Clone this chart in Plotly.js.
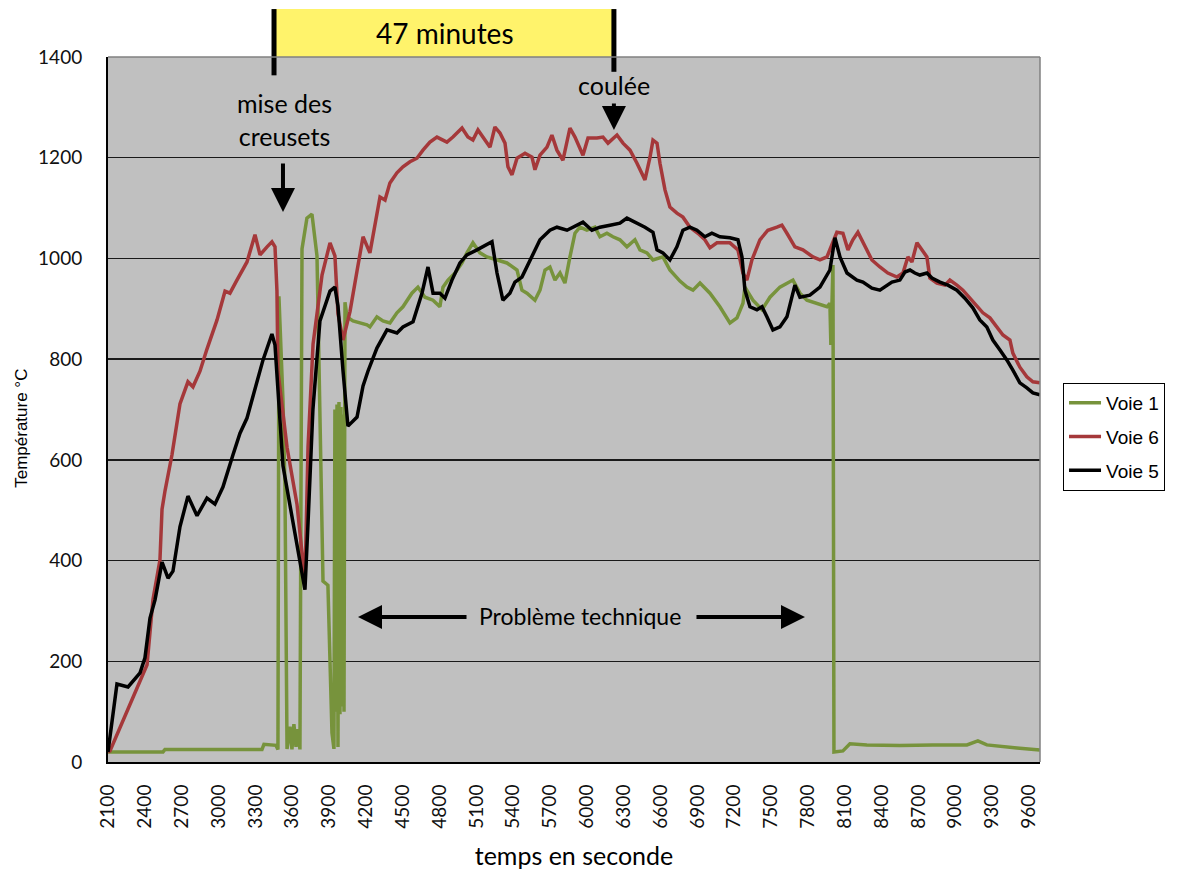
<!DOCTYPE html>
<html>
<head>
<meta charset="utf-8">
<script src="https://cdn.plot.ly/plotly-3.0.1.min.js"></script>
<style>html,body{margin:0;padding:0;background:#fff;}#chart{width:1181px;height:876px;}</style>
</head>
<body>
<div id="chart"></div>
<script>
// Temps (s) et températures (°C)
const tempsVoie1 = [2100,2548,2564,3354,3370,3468,3484,3492,3525,3541,3558,3582,3598,3614,3631,3647,3663,3680,3720,3761,3802,3826,3851,3891,3924,3940,3948,3957,3965,3973,3981,3989,3997,4005,4014,4022,4030,4046,4095,4152,4209,4233,4290,4339,4396,4453,4502,4575,4624,4681,4747,4803,4828,4869,4926,4983,5023,5072,5129,5186,5268,5349,5431,5471,5512,5577,5618,5659,5699,5740,5781,5821,5862,5903,5943,6000,6065,6106,6163,6212,6269,6326,6391,6432,6489,6538,6619,6676,6758,6815,6864,6921,7002,7083,7165,7222,7271,7287,7352,7426,7491,7572,7678,7735,7792,7873,7955,7979,7987,8004,8012,8085,8142,8280,8549,8818,9095,9184,9257,9502,9689];
const tempVoie1 = [20,20,25,25,35,33,25,925,717,550,26,70,25,75,30,65,25,1019,1080,1088,1005,701,359,351,58,26,700,100,710,30,715,95,705,110,690,100,913,884,876,872,868,864,884,876,872,892,904,931,943,923,917,904,943,957,971,991,1011,1031,1011,1003,997,991,977,937,931,917,937,977,983,957,971,951,1003,1050,1062,1056,1062,1043,1050,1043,1037,1023,1037,1017,1011,997,1003,977,955,943,937,951,931,904,872,882,911,943,917,898,923,943,957,931,917,911,904,911,828,987,20,22,36,34,33,34,34,42,34,28,24];

const tempsVoie6 = [2100,2116,2418,2466,2523,2540,2564,2621,2686,2751,2792,2849,2906,2988,3053,3093,3150,3232,3297,3338,3395,3435,3460,3476,3484,3558,3639,3704,3729,3770,3843,3908,3948,3973,4014,4071,4128,4177,4233,4274,4315,4356,4396,4453,4502,4559,4616,4665,4722,4779,4860,4909,4983,5031,5072,5113,5154,5211,5251,5292,5333,5357,5390,5431,5496,5553,5577,5618,5675,5715,5756,5805,5862,5903,5968,6009,6082,6131,6172,6245,6294,6351,6408,6473,6514,6538,6571,6595,6636,6676,6733,6782,6839,6904,6961,7002,7059,7124,7165,7230,7271,7303,7344,7409,7474,7548,7588,7629,7694,7759,7841,7898,7955,8036,8085,8126,8166,8207,8264,8321,8386,8451,8525,8574,8614,8647,8688,8728,8769,8793,8850,8916,8956,9013,9062,9119,9176,9225,9282,9339,9388,9445,9469,9526,9583,9632,9689];
const tempVoie6 = [20,22,193,322,401,502,538,610,711,755,745,776,820,878,935,931,957,993,1047,1007,1023,1033,1023,935,776,625,512,359,625,830,967,1031,1005,890,838,895,975,1043,1011,1062,1122,1116,1150,1170,1182,1192,1199,1215,1231,1241,1231,1241,1259,1241,1235,1255,1241,1221,1261,1249,1229,1182,1166,1199,1209,1201,1176,1205,1221,1245,1215,1195,1259,1241,1205,1239,1239,1241,1229,1245,1229,1215,1189,1156,1201,1235,1229,1189,1136,1102,1090,1082,1062,1050,1037,1021,1031,1031,1031,1017,971,957,997,1037,1056,1062,1066,1050,1023,1017,1003,997,1003,1052,1050,1017,1037,1052,1023,997,983,971,963,971,1003,993,1031,1017,1003,961,951,947,957,947,937,921,904,892,882,864,848,838,812,784,765,755,753];

const tempsVoie5 = [2100,2173,2263,2361,2401,2442,2483,2540,2589,2629,2686,2751,2825,2906,2971,3036,3118,3175,3232,3281,3362,3435,3460,3525,3606,3704,3729,3769,3826,3908,3948,3973,4014,4054,4128,4177,4217,4290,4372,4453,4502,4584,4657,4706,4747,4803,4844,4901,4966,5023,5105,5154,5227,5268,5316,5373,5414,5471,5553,5618,5699,5756,5838,5887,5968,6041,6106,6188,6269,6326,6391,6473,6538,6571,6619,6676,6733,6782,6839,6896,6961,7018,7083,7165,7230,7263,7287,7328,7385,7426,7466,7515,7572,7629,7694,7735,7816,7898,7979,8020,8061,8118,8199,8248,8321,8386,8484,8549,8590,8631,8671,8712,8769,8810,8875,8940,9013,9078,9143,9200,9257,9306,9364,9421,9469,9526,9583,9632,9689];
const tempVoie5 = [20,155,149,177,207,286,322,397,365,379,467,528,489,524,512,546,610,653,683,727,798,850,828,588,475,342,475,701,876,935,943,905,776,667,685,747,776,822,858,852,864,874,931,983,931,931,921,957,991,1007,1017,1023,1033,971,917,931,953,963,1003,1037,1056,1062,1056,1062,1072,1056,1062,1066,1070,1080,1072,1062,1052,1017,1011,997,1023,1056,1062,1056,1043,1050,1043,1041,1037,1003,937,904,898,904,884,858,864,884,947,923,927,943,977,1041,1003,971,957,953,941,937,953,957,973,977,971,967,971,961,953,947,937,921,902,878,864,838,818,798,778,753,743,733,729];

const seriesNames = ['Voie 1', 'Voie 6', 'Voie 5'];
const seriesColors = ['#77933C', '#A5383A', '#000000'];
const xTickVals = [2100,2400,2700,3000,3300,3600,3900,4200,4500,4800,5100,5400,5700,6000,6300,6600,6900,7200,7500,7800,8100,8400,8700,9000,9300,9600];
const yTickVals = [0,200,400,600,800,1000,1200,1400];

const xs = [tempsVoie1, tempsVoie6, tempsVoie5];
const ys = [tempVoie1, tempVoie6, tempVoie5];
const traces = seriesNames.map((n, i) => ({
  type: 'scatter', mode: 'lines', name: n, x: xs[i], y: ys[i],
  legendgroup: 'g' + i,
  line: {color: seriesColors[i], width: 3.5}
}));

const txtFont = {family: 'Lato, "Open Sans", sans-serif', color: '#000'};
const arrow = {text: '', showarrow: true, arrowhead: 2, arrowsize: 1.2, arrowwidth: 4, arrowcolor: '#000', xref: 'x', yref: 'y'};

const layout = {
  width: 1181, height: 876,
  margin: {l: 108, r: 141, t: 57, b: 114},
  paper_bgcolor: '#ffffff',
  plot_bgcolor: '#c0c0c0',
  showlegend: true,
  legend: {
    x: 1.0247, xanchor: 'left', y: 0.5376, yanchor: 'top',
    bgcolor: '#ffffff', bordercolor: '#000000', borderwidth: 1,
    font: {family: '"Liberation Sans", Arial, sans-serif', size: 19, color: '#000'},
    itemwidth: 32,
    tracegroupgap: 6
  },
  xaxis: {
    range: [2100, 9690], tickvals: xTickVals, ticktext: xTickVals.map(String),
    tickangle: -90, showgrid: false, zeroline: false,
    showline: true, linecolor: '#000', linewidth: 2,
    ticks: '', ticklabelstandoff: 13,
    tickfont: {family: 'Lato, sans-serif', size: 19, color: '#111'},
    title: {text: 'temps en seconde', standoff: 20, font: {family: 'Lato, sans-serif', size: 25, color: '#000'}},
    automargin: false
  },
  yaxis: {
    range: [0, 1400], tickvals: yTickVals, ticktext: yTickVals.map(String),
    showgrid: true, gridcolor: '#1a1a1a', gridwidth: 1.5, zeroline: false,
    showline: true, linecolor: '#000', linewidth: 2,
    ticks: '', ticklabelstandoff: 20,
    tickfont: {family: 'Lato, sans-serif', size: 19, color: '#111'},
    automargin: false
  },
  shapes: [
    {type: 'rect', xref: 'x', yref: 'paper', x0: 3452, x1: 6220, y0: 1.0, y1: 1.068, fillcolor: '#FFF36B', line: {width: 0}, layer: 'above'},
    {type: 'line', xref: 'x', yref: 'paper', x0: 3452, x1: 3452, y0: 0.974, y1: 1.068, line: {color: '#000', width: 5}},
    {type: 'line', xref: 'x', yref: 'paper', x0: 6220, x1: 6220, y0: 0.979, y1: 1.068, line: {color: '#000', width: 5}},
    {type: 'line', xref: 'paper', yref: 'paper', x0: 0, x1: 1, y0: 1, y1: 1, line: {color: '#808080', width: 1.5}},
    {type: 'line', xref: 'paper', yref: 'paper', x0: 1, x1: 1, y0: 0, y1: 1, line: {color: '#808080', width: 1.5}}
  ],
  annotations: [
    {xref: 'paper', yref: 'paper', x: -0.0923, y: 0.474, xanchor: 'center', yanchor: 'middle', textangle: -90,
     text: 'Température °C', showarrow: false, font: {family: '"Liberation Sans", Arial, sans-serif', size: 17, color: '#000'}},
    {xref: 'x', yref: 'paper', x: 4844, y: 1.034, yanchor: 'middle', text: '47 minutes', showarrow: false, font: Object.assign({size: 28}, txtFont)},
    {xref: 'x', yref: 'paper', x: 3541, y: 0.911, yanchor: 'middle', text: 'mise des<br>creusets', showarrow: false, font: Object.assign({size: 25}, txtFont)},
    Object.assign({x: 3525, y: 1092, ax: 0, ay: -50}, arrow),
    {xref: 'x', yref: 'paper', x: 6220, y: 0.960, yanchor: 'middle', text: 'coulée', showarrow: false, font: Object.assign({size: 25}, txtFont)},
    Object.assign({x: 6220, y: 1255, ax: 0, ay: -28}, arrow),
    {xref: 'x', yref: 'y', x: 5943, y: 290, yanchor: 'middle', text: 'Problème technique', showarrow: false, font: Object.assign({size: 23}, txtFont)},
    Object.assign({x: 4136, y: 288, ax: 110, ay: 0}, arrow),
    Object.assign({x: 7776, y: 288, ax: -110, ay: 0}, arrow)
  ]
};

Plotly.newPlot('chart', traces, layout, {displayModeBar: false, staticPlot: true});
</script>
</body>
</html>
